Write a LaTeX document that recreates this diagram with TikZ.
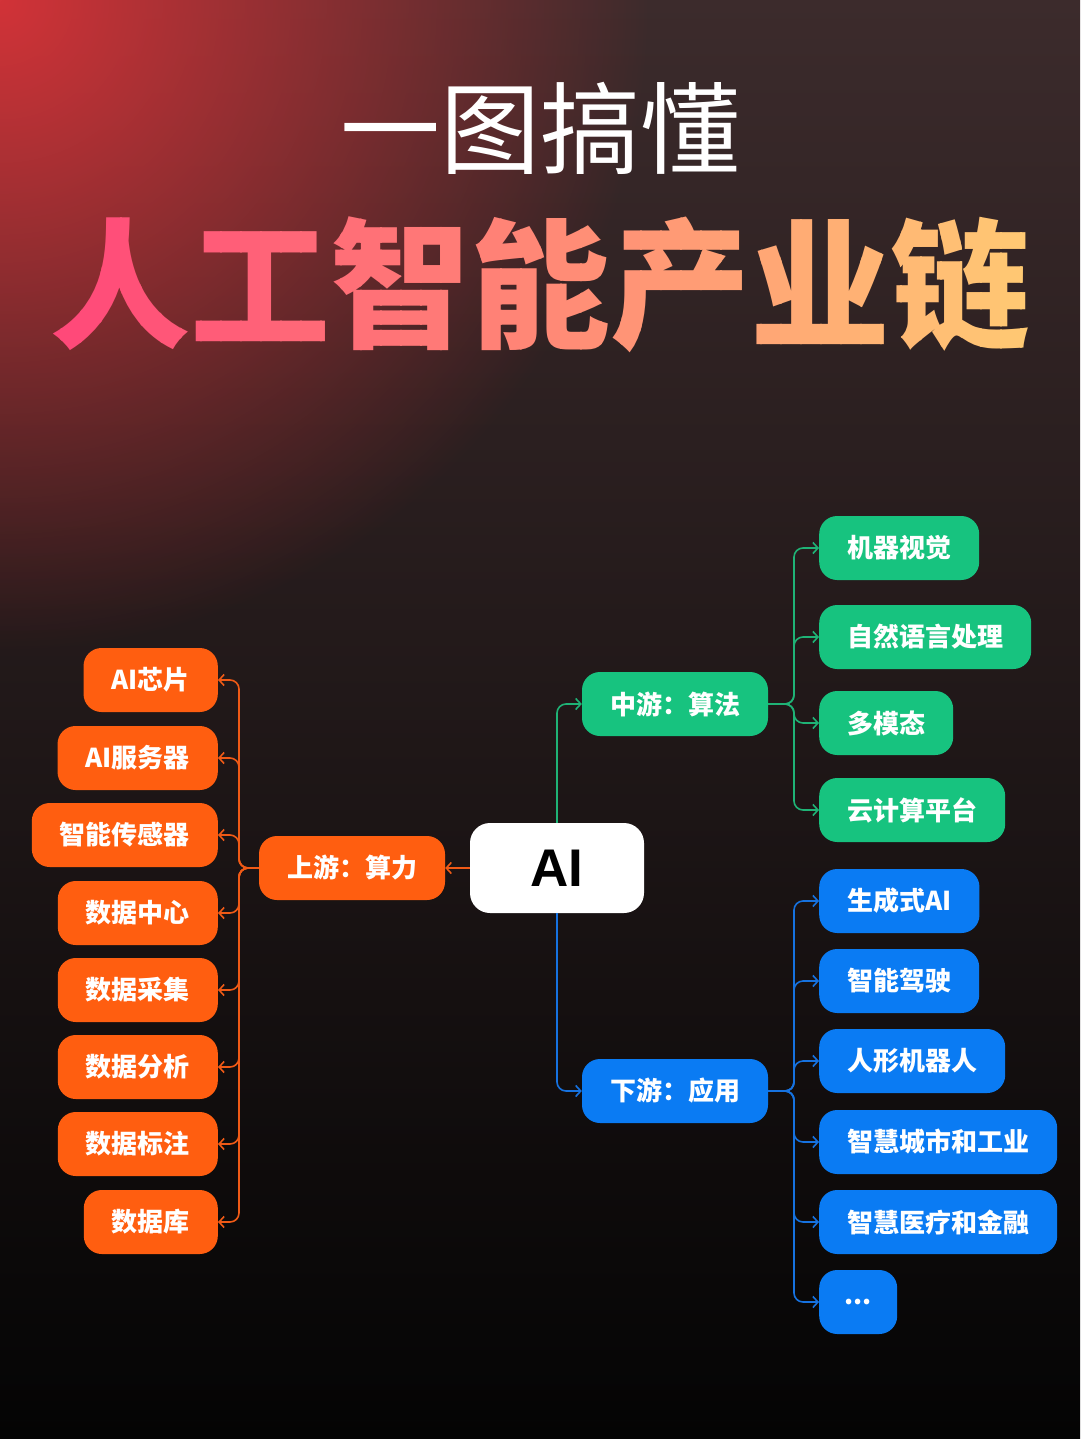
\documentclass[tikz,border=0pt]{standalone}
\usepackage{fontspec}
\setmainfont{Noto Sans CJK SC}
\newfontfamily\cjk{Noto Sans CJK SC}
\newfontfamily\arialb{Liberation Sans}
\usetikzlibrary{arrows.meta,fadings}
\definecolor{bgtop}{HTML}{3C2B2C}
\definecolor{bgmid}{HTML}{201718}
\definecolor{bgbot}{HTML}{040404}
\definecolor{glowred}{HTML}{D23338}
\definecolor{orangeC}{HTML}{FF5E10}
\definecolor{greenC}{HTML}{17C37F}
\definecolor{blueC}{HTML}{0A7BF3}
\definecolor{orangeL}{HTML}{F05A16}
\definecolor{greenL}{HTML}{1FB376}
\definecolor{blueL}{HTML}{1672E0}
\definecolor{pinkT}{HTML}{FF4579}
\definecolor{yellowT}{HTML}{FFCB73}
\tikzfading[name=glowfade, inner color=transparent!0, outer color=transparent!100]
\tikzset{
  nodebox/.style={rounded corners=18pt, minimum height=64pt, inner xsep=28pt, inner ysep=0pt, text=white, font=\cjk\bfseries\fontsize{26pt}{30pt}\selectfont},
  obox/.style={nodebox, fill=orangeC},
  gbox/.style={nodebox, fill=greenC},
  bluebox/.style={nodebox, fill=blueC},
  link/.style={line width=1.6pt, rounded corners=9pt, -{Straight Barb[length=5pt,width=11pt]}},
  olink/.style={link, draw=orangeL},
  glink/.style={link, draw=greenL},
  blink/.style={link, draw=blueL},
  titlefont/.style={font=\cjk\bfseries\fontsize{140pt}{140pt}\selectfont}
}
\begin{document}
\begin{tikzpicture}[x=1pt, y=-1pt]
\useasboundingbox (0,0) rectangle (1080,1439);
% background
\shade[top color=bgtop, middle color=bgmid, bottom color=bgbot] (0,0) rectangle (1080,1439);
\begin{scope}
  \clip (0,0) rectangle (1080,1439);
  \fill[glowred, path fading=glowfade] (0,0) circle (650pt);
\end{scope}
% titles
\node[text=white, inner sep=0pt, font=\cjk\fontsize{100pt}{100pt}\selectfont] (t1) at (540,128) {一图搞懂};
\foreach \i in {0,...,49}{
  \pgfmathsetmacro{\xa}{40+20*\i}
  \pgfmathtruncatemacro{\pc}{2*\i+1}
  \begin{scope}
    \clip (\xa,180) rectangle (\xa+21,380);
    \node[titlefont, text=yellowT!\pc!pinkT, inner sep=0pt] (ts\i) at (540,285) {人工智能产业链};
  \end{scope}
}
% centre
\node[fill=white, rounded corners=20pt, minimum width=174pt, minimum height=90pt, inner sep=0pt, text=black, font=\arialb\bfseries\fontsize{53pt}{60pt}\selectfont] (ai) at (557,868) {AI};
% upstream
\node[obox] (up) at (352,868) {上游：算力};
\node[obox, anchor=east] (o1) at (218,680) {AI芯片};
\node[obox, anchor=east] (o2) at (218,758) {AI服务器};
\node[obox, anchor=east] (o3) at (218,835) {智能传感器};
\node[obox, anchor=east] (o4) at (218,913) {数据中心};
\node[obox, anchor=east] (o5) at (218,990) {数据采集};
\node[obox, anchor=east] (o6) at (218,1067) {数据分析};
\node[obox, anchor=east] (o7) at (218,1144) {数据标注};
\node[obox, anchor=east] (o8) at (218,1222) {数据库};
% midstream
\node[gbox] (mid) at (675,704) {中游：算法};
\node[gbox, anchor=west] (g1) at (819,548) {机器视觉};
\node[gbox, anchor=west] (g2) at (819,637) {自然语言处理};
\node[gbox, anchor=west] (g3) at (819,723) {多模态};
\node[gbox, anchor=west] (g4) at (819,810) {云计算平台};
% downstream
\node[bluebox] (down) at (675,1091) {下游：应用};
\node[bluebox, anchor=west] (b1) at (819,901) {生成式AI};
\node[bluebox, anchor=west] (b2) at (819,981) {智能驾驶};
\node[bluebox, anchor=west] (b3) at (819,1061) {人形机器人};
\node[bluebox, anchor=west] (b4) at (819,1142) {智慧城市和工业};
\node[bluebox, anchor=west] (b5) at (819,1222) {智慧医疗和金融};
\node[bluebox, anchor=west, inner xsep=0pt, minimum width=78pt] (b6) at (819,1302) {...};
% connectors
\coordinate (ut) at (239,868);
\coordinate (mt) at (794,704);
\coordinate (dt) at (794,1091);
\draw[olink] (ai.west) -- (up.east);
\draw[glink] (ai.north) |- (mid.west);
\draw[blink] (ai.south) |- (down.west);
\foreach \n in {o1,o2,o3,o4,o5,o6,o7,o8}
  \draw[olink] (up.west) -- (ut) |- (\n.east);
\foreach \n in {g1,g2,g3,g4}
  \draw[glink] (mid.east) -- (mt) |- (\n.west);
\foreach \n in {b1,b2,b3,b4,b5,b6}
  \draw[blink] (down.east) -- (dt) |- (\n.west);
\end{tikzpicture}
\end{document}
